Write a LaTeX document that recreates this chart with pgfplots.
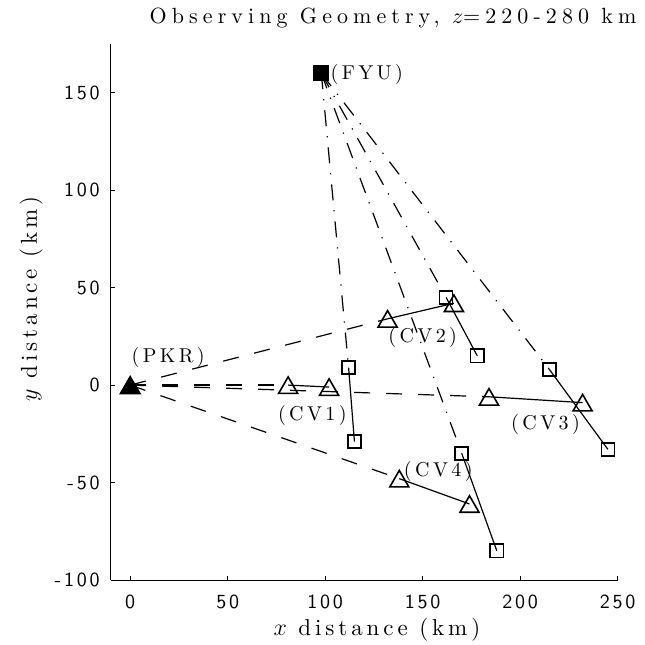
\documentclass[border=0pt]{standalone}
\usepackage{fontspec}
\usepackage{pgfplots}
\pgfplotsset{compat=1.18}

% Letter-spaced Latin Modern faces
\newfontfamily\titlefont{lmroman10-regular.otf}[LetterSpace=23]
\newfontfamily\labelfont{lmroman10-regular.otf}[LetterSpace=17]
\newfontfamily\annfont{lmroman10-regular.otf}[LetterSpace=17]
\newfontfamily\tickfont{lmsans10-regular.otf}[LetterSpace=14]

\begin{document}
\begin{tikzpicture}
\begin{axis}[
  scale only axis,
  width=253.5pt, height=268pt,
  xmin=-10, xmax=250, ymin=-100, ymax=175,
  axis lines*=left,
  axis line style={line width=0.5pt, black},
  clip=false,
  xtick={0,50,100,150,200,250},
  xticklabels={0,50,100,150,200,250},
  ytick={-100,-50,0,50,100,150},
  yticklabels={-100,-50,0,50,100,150},
  tick align=inside,
  major tick length=2pt,
  tick style={black, line width=0.5pt},
  xticklabel style={font=\tickfont\fontsize{10}{10}\selectfont, yshift=-4pt},
  yticklabel style={font=\tickfont\fontsize{10}{10}\selectfont, xshift=-2pt},
  title={\titlefont\fontsize{11}{13}\selectfont Observing Geometry, $z$=220-280 km},
  every axis title/.style={at={(rel axis cs:0.557,1)}, anchor=base, yshift=10.35pt, inner sep=0pt},
  xlabel={\labelfont\fontsize{11.5}{13}\selectfont $x$ distance (km)},
  every axis x label/.style={at={(rel axis cs:0.525,0)}, anchor=base, yshift=-27.5pt, inner sep=0pt},
  ylabel={\labelfont\fontsize{11.5}{13}\selectfont $y$ distance (km)},
  every axis y label/.style={at={(rel axis cs:0,0.524)}, anchor=base, rotate=90, yshift=36.9pt, inner sep=0pt},
  every axis plot/.append style={black, line width=0.6pt},
  tri/.style={mark=triangle, mark size=5.5pt, mark options={solid, line width=0.8pt, yshift=-1.4pt}},
  sq/.style={mark=square, mark size=3.3pt, mark options={solid, line width=0.8pt}},
  pkrline/.style={no marks, dash pattern=on 8pt off 8pt},
  fyuline/.style={no marks, dash pattern=on 8pt off 5pt on 0.6pt off 5pt},
]

% Beams from PKR to the lower-altitude point of each common volume
\addplot[pkrline] coordinates {(0,0) (81,0)};
\addplot[pkrline] coordinates {(0,0) (132,34)};
\addplot[pkrline] coordinates {(0,0) (184,-6)};
\addplot[pkrline] coordinates {(0,0) (138,-48)};

% Beams from FYU
\addplot[fyuline] coordinates {(98,160) (112,9)};
\addplot[fyuline] coordinates {(98,160) (162,45)};
\addplot[fyuline] coordinates {(98,160) (215,8)};
\addplot[fyuline] coordinates {(98,160) (170,-35)};

% CV1
\addplot[tri] coordinates {(81,0) (102,-1)};
\addplot[sq] coordinates {(112,9) (115,-29)};
% CV2
\addplot[tri] coordinates {(132,34) (166,42)};
\addplot[sq] coordinates {(162,45) (178,15)};
% CV3
\addplot[tri] coordinates {(184,-6) (232,-9)};
\addplot[sq] coordinates {(215,8) (245,-33)};
% CV4
\addplot[tri] coordinates {(138,-48) (174,-61)};
\addplot[sq] coordinates {(170,-35) (188,-85)};

% Stations
\addplot[only marks, mark=triangle*, mark size=5.8pt, mark options={fill=black, yshift=-1.4pt}] coordinates {(0,0)};
\addplot[only marks, mark=square*, mark size=3.6pt, mark options={fill=black}] coordinates {(98,160)};

% Site and volume names
\begin{scope}[every node/.style={inner sep=0pt, font=\annfont\fontsize{10}{12}\selectfont}]
\node at (axis cs:19.5,14.4) {(PKR)};
\node at (axis cs:121.3,159.5) {(FYU)};
\node at (axis cs:93.4,-15.4) {(CV1)};
\node at (axis cs:150,24.6) {(CV2)};
\node at (axis cs:213,-20) {(CV3)};
\node at (axis cs:158,-44.5) {(CV4)};
\end{scope}
\end{axis}
\pgfresetboundingbox
\path[use as bounding box] (-55.35pt,-32.5pt) rectangle (267.15pt,290pt);
\end{tikzpicture}
\end{document}
